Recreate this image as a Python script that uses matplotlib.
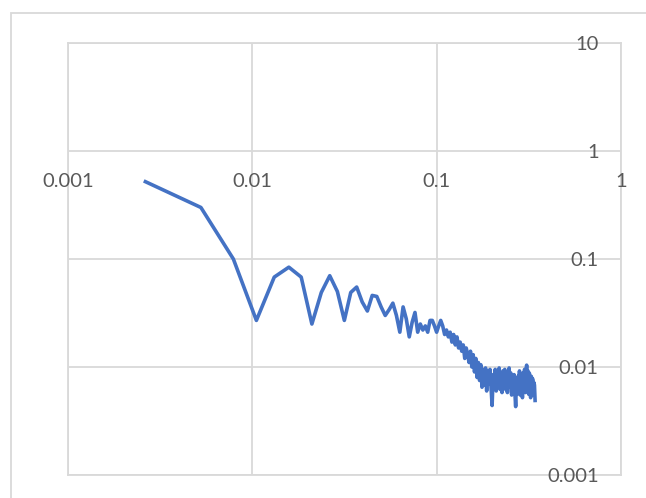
import matplotlib.pyplot as plt
from matplotlib.patches import Rectangle
import numpy as np

plt.rcParams['font.family'] = ['Lato', 'DejaVu Sans']

# frequency steps (equally spaced, first point at ~0.00263)
n_points = 130
df_step = 0.00263
freq = np.arange(1, n_points + 1) * df_step

amp = [
    0.52, 0.30, 0.10, 0.027, 0.068, 0.084, 0.068, 0.025, 0.049, 0.070,
    0.050, 0.027, 0.049, 0.055, 0.040, 0.033, 0.046, 0.045, 0.036, 0.030,
    0.034, 0.039, 0.030, 0.021, 0.036, 0.028, 0.019, 0.026, 0.032, 0.021,
    0.025, 0.022, 0.024, 0.021, 0.027, 0.027, 0.024, 0.021, 0.024, 0.027,
    0.024, 0.020, 0.022, 0.019, 0.021, 0.017, 0.020, 0.016, 0.019, 0.015,
    0.017, 0.014, 0.016, 0.012, 0.015, 0.013, 0.011, 0.014, 0.010, 0.013,
    0.009, 0.012, 0.008, 0.011, 0.0075, 0.0105, 0.0065, 0.0095, 0.0068, 0.0098,
    0.0060, 0.0092, 0.0070, 0.0095, 0.0065, 0.0044, 0.0085, 0.0068, 0.0095, 0.0060,
    0.0090, 0.0072, 0.0098, 0.0062, 0.0088, 0.0058, 0.0092, 0.0075, 0.0095, 0.0062,
    0.0085, 0.0058, 0.0075, 0.0098, 0.0066, 0.0088, 0.0055, 0.0078, 0.0062, 0.0085,
    0.0058, 0.0043, 0.0075, 0.0056, 0.0082, 0.0065, 0.0092, 0.0055, 0.0085, 0.0068,
    0.0052, 0.0088, 0.0062, 0.0095, 0.0058, 0.0085, 0.0104, 0.0072, 0.0092, 0.0056,
    0.0088, 0.0065, 0.0052, 0.0082, 0.0060, 0.0078, 0.0055, 0.0072, 0.0068, 0.0049,
]

x_ticks = [0.001, 0.01, 0.1, 1]
x_labels = ["0.001", "0.01", "0.1", "1"]
y_ticks = [0.001, 0.01, 0.1, 1, 10]
y_labels = ["0.001", "0.01", "0.1", "1", "10"]

W, H = 646, 498
grid_col = "#d9d9d9"
text_col = "#595959"

fig = plt.figure(figsize=(W / 100, H / 100), dpi=100)
ax = fig.add_axes([68 / W, (H - 475) / H, 553 / W, 432 / H])
ax.set_xscale('log')
ax.set_yscale('log')
ax.set_xlim(0.001, 1)
ax.set_ylim(0.001, 10)

# gridlines
for xv in x_ticks:
    ax.axvline(xv, color=grid_col, lw=1.3, zorder=0)
for yv in y_ticks:
    ax.axhline(yv, color=grid_col, lw=1.3, zorder=0)
for s in ax.spines.values():
    s.set_color(grid_col)
    s.set_linewidth(1.3)

ax.plot(freq, amp, color="#4472C4", lw=2.6, solid_joinstyle='round', zorder=3)

ax.set_xticks([])
ax.set_yticks([])
ax.minorticks_off()
ax.tick_params(which='both', length=0, labelbottom=False, labelleft=False)

# x labels sit under the y=1 line, y labels left of the x=1 line
for xv, lab in zip(x_ticks, x_labels):
    ax.annotate(lab, (xv, 1), xytext=(0, -30.5 * 0.72), textcoords='offset points',
                ha='center', va='center', fontsize=14.5, color=text_col, zorder=4)
for yv, lab in zip(y_ticks, y_labels):
    ax.annotate(lab, (1, yv), xytext=(-22.5 * 0.72, -1 * 0.72), textcoords='offset points',
                ha='right', va='center', fontsize=14.5, color=text_col, zorder=4,
                annotation_clip=False)

# chart area border (runs off the right and bottom of the image)
fig.patches.append(Rectangle((11 / W, -0.1), 2, 1 - 13 / H + 0.1, transform=fig.transFigure,
                             fill=False, edgecolor=grid_col, lw=1.3))

fig.savefig("out.png", dpi=100)
